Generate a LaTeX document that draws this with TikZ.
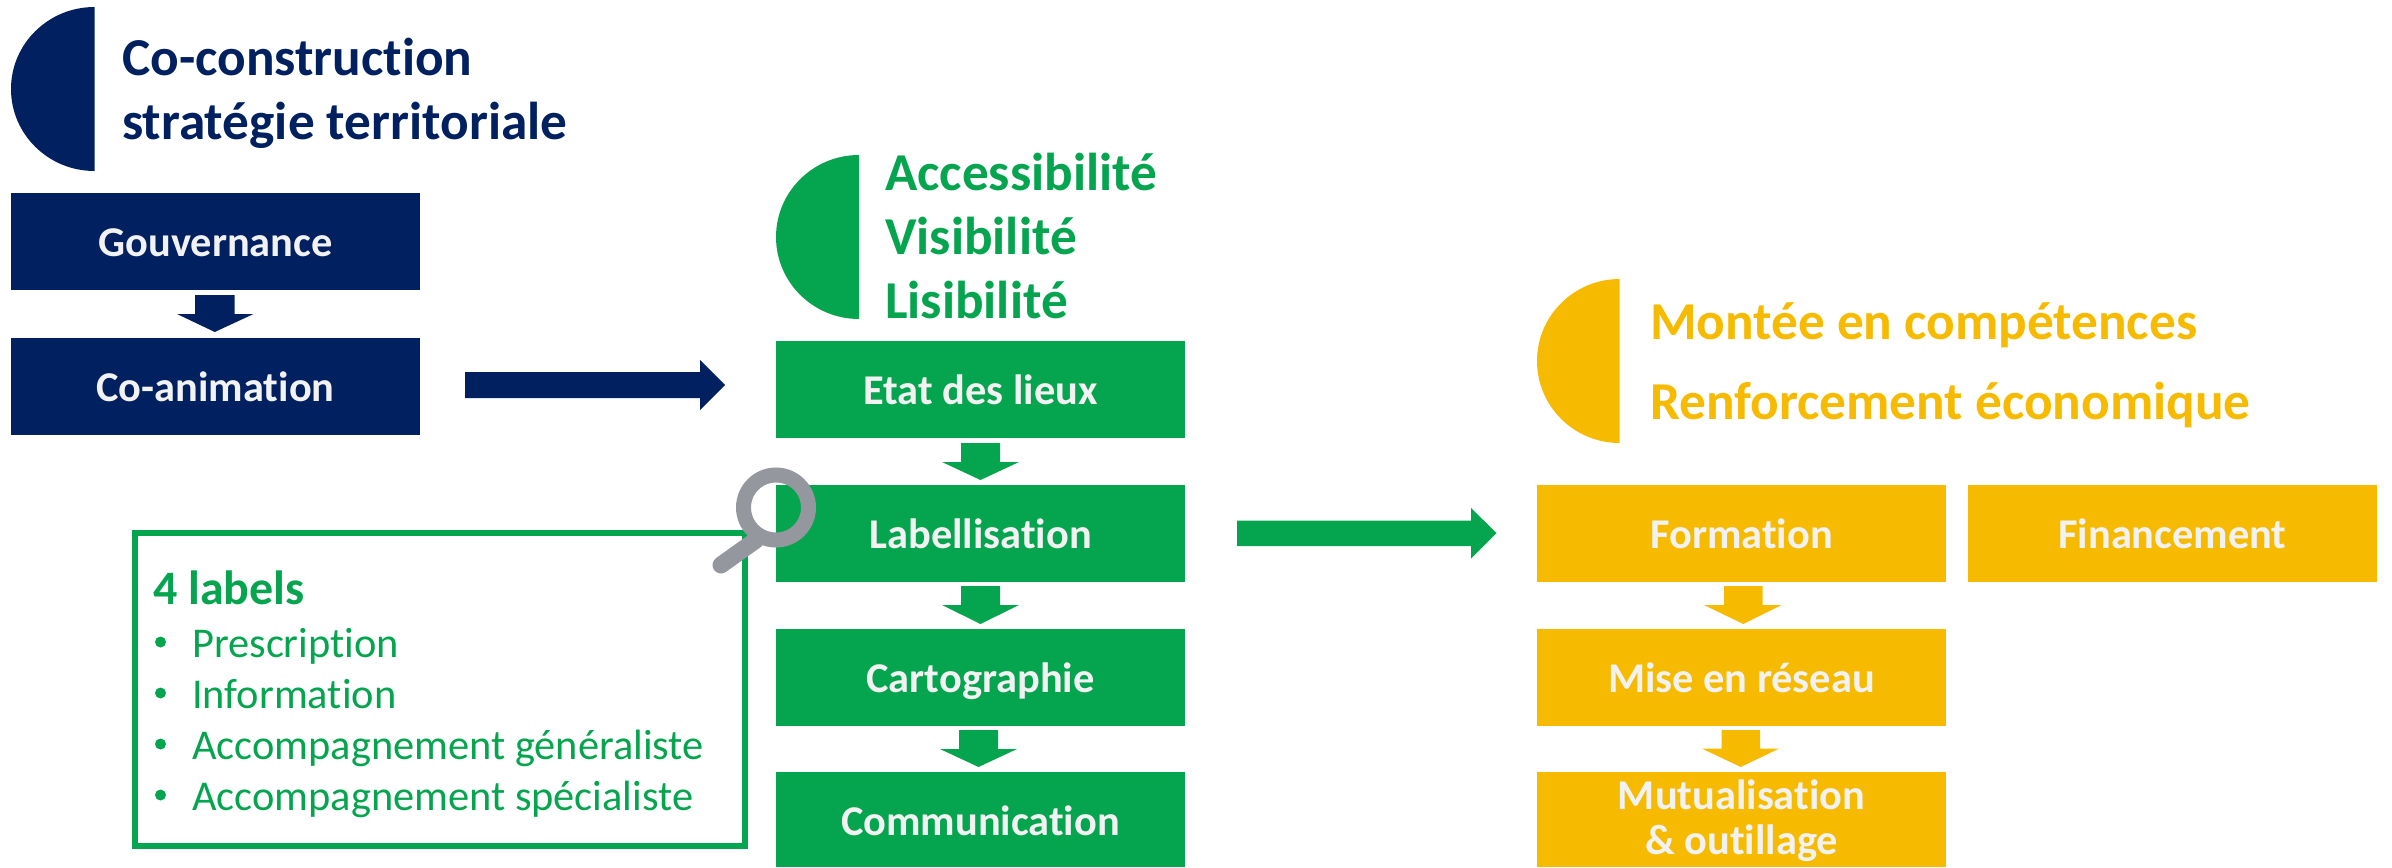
\documentclass[tikz,border=0pt]{standalone}
\usepackage{fontspec}
\setmainfont{Carlito}[RawFeature={-liga}]
\definecolor{navy}{HTML}{002060}
\definecolor{vert}{HTML}{05A44F}
\definecolor{jaune}{HTML}{F6BB00}
\definecolor{gris}{HTML}{94979E}
\definecolor{blanc}{HTML}{F2F2F2}
\tikzset{
  x=1pt,y=-1pt,
  boxn/.style={fill=#1,draw=none,inner sep=0pt,outer sep=0pt,minimum width=409pt,minimum height=97pt,
    text=blanc,font=\fontsize{42.4}{45}\selectfont\bfseries,align=center,anchor=north west,text height=34pt,text depth=5pt},
  head/.style={text=#1,font=\fontsize{53.3}{60}\selectfont\bfseries,anchor=base west,inner sep=0pt},
  lblhead/.style={text=vert,font=\fontsize{48}{55}\selectfont\bfseries,anchor=base west,inner sep=0pt},
  item/.style={text=vert,font=\fontsize{42.4}{48}\selectfont,anchor=base west,inner sep=0pt},
}
\newcommand{\halfdisc}[4]{% colour, xleft, xright, ytop
  \fill[#1] (#3,#4+164) arc[start angle=90,end angle=270,x radius=#3-#2,y radius=82] -- cycle;}
\newcommand{\downarr}[8]{% colour, x1,x2,y1,y2,hx1,hx2,ytip
  \fill[#1] (#2,#4) -- (#3,#4) -- (#3,#5) -- (#7,#5) -- ({(#2+#3)/2},#8) -- (#6,#5) -- (#2,#5) -- cycle;}
\begin{document}
\begin{tikzpicture}
\useasboundingbox (0,0) rectangle (2392,867);
% navy
\halfdisc{navy}{11}{94.5}{7}
\node[head=navy] (t1) at (122,75) {Co-construction};
\node[head=navy] (t2) at (122,139) {stratégie territoriale};
\node[boxn=navy] (gouv) at (11,193) {Gouvernance};
\node[boxn=navy] (coan) at (11,338) {Co-animation};
\downarr{navy}{195}{234.6}{295}{314}{177}{253.5}{332}
\fill[navy] (465,372) -- (700,372) -- (700,360) -- (725,385) -- (700,410) -- (700,398) -- (465,398) -- cycle;
% green
\halfdisc{vert}{776}{859}{155}
\node[head=vert] (a1) at (885,190) {Accessibilité};
\node[head=vert] (a2) at (885,254) {Visibilité};
\node[head=vert] (a3) at (885,318) {Lisibilité};
\node[boxn=vert] (etat) at (776,341) {Etat des lieux};
\node[boxn=vert] (lab) at (776,485) {Labellisation};
\node[boxn=vert] (carto) at (776,629) {Cartographie};
\node[boxn=vert,minimum height=95pt,text height=33pt,text depth=2pt] (comm) at (776,772) {Communication};
\downarr{vert}{961}{1000}{443}{462}{942}{1019}{480}
\downarr{vert}{961}{1000}{586}{605}{942}{1019}{624}
\downarr{vert}{959}{998}{730}{749}{940}{1017}{767}
\fill[vert] (1237,520.5) -- (1471,520.5) -- (1471,508) -- (1496.5,533) -- (1471,558.5) -- (1471,546) -- (1237,546) -- cycle;
% frame
\draw[vert,line width=6pt] (134.5,533) rectangle (745,846);
\node[lblhead] (lbl) at (153,604) {4 labels};
\fill[vert] (160.5,642) circle[radius=5.5];
\fill[vert] (160.5,693) circle[radius=5.5];
\fill[vert] (160.5,744) circle[radius=5.5];
\fill[vert] (160.5,795) circle[radius=5.5];
\node[item] (i1) at (192,657) {Prescription};
\node[item] (i2) at (192,708) {Information};
\node[item] (i3) at (192,759) {Accompagnement généraliste};
\node[item] (i4) at (192,810) {Accompagnement spécialiste};
% magnifier
\draw[gris,line width=17pt,line cap=round] (756,540) -- (721,565);
\draw[gris,line width=15pt] (776,507.5) circle[radius=32.5];
% yellow
\halfdisc{jaune}{1537}{1619.6}{279}
\node[head=jaune] (m1) at (1650,339) {Montée en compétences};
\node[head=jaune] (m2) at (1650,419) {Renforcement économique};
\node[boxn=jaune] (form) at (1537,485) {Formation};
\node[boxn=jaune] (fin) at (1968,485) {Financement};
\node[boxn=jaune] (mise) at (1537,629) {Mise en réseau};
\node[boxn=jaune,minimum height=95pt,text height=72pt,text depth=3pt] (mut) at (1537,772) {Mutualisation\\\& outillage};
\downarr{jaune}{1724}{1762.6}{586}{605}{1704}{1781.6}{624}
\downarr{jaune}{1721.5}{1760}{730}{748.6}{1702}{1779}{767}
\end{tikzpicture}
\end{document}
